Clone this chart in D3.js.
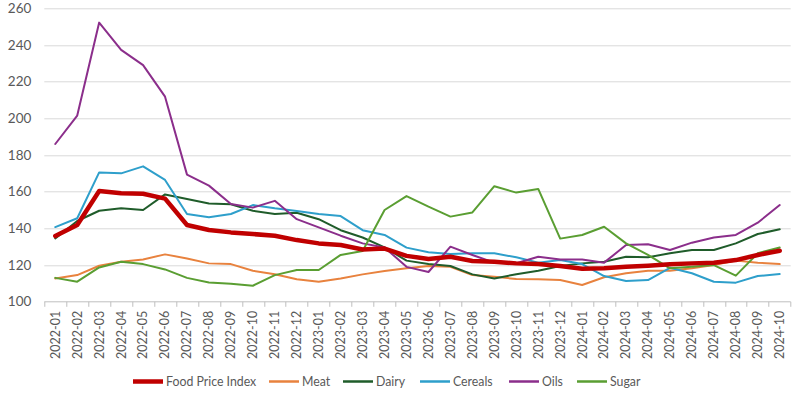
<!DOCTYPE html>
<html>
<head>
<meta charset="utf-8">
<script src="https://cdn.jsdelivr.net/npm/d3@7"></script>
<style>
  body { margin: 0; background: #fff; }
  svg text { font-family: Lato, "Liberation Sans", sans-serif; fill: #595959; }
</style>
</head>
<body>
<svg width="800" height="394"></svg>
<script>
// months on the x axis
const months = ['2022-01','2022-02','2022-03','2022-04','2022-05','2022-06','2022-07','2022-08','2022-09','2022-10','2022-11','2022-12',
    '2023-01','2023-02','2023-03','2023-04','2023-05','2023-06','2023-07','2023-08','2023-09','2023-10','2023-11','2023-12',
    '2024-01','2024-02','2024-03','2024-04','2024-05','2024-06','2024-07','2024-08','2024-09','2024-10'];

const yTicks = [100, 120, 140, 160, 180, 200, 220, 240, 260];

// series values
const foodPriceIndex = [135.8, 141.8, 160.4, 159.1, 158.9, 156.2, 141.8, 139.1, 137.8, 136.9, 136.0, 133.6,
    131.8, 130.9, 128.5, 129.0, 125.0, 123.3, 124.5, 122.2, 121.8, 120.9, 120.5, 119.5,
    118.0, 118.2, 119.0, 119.6, 120.4, 120.9, 121.3, 122.7, 125.5, 127.8];
const meat = [112.7, 114.5, 119.6, 121.8, 123.0, 125.8, 123.6, 120.9, 120.5, 116.9, 115.0, 112.2,
    110.9, 112.7, 114.9, 116.7, 118.2, 119.5, 119.0, 114.5, 113.6, 112.4, 112.2, 111.8,
    109.1, 113.3, 115.5, 116.9, 116.9, 118.2, 120.0, 122.4, 121.3, 120.5];
const dairy = [134.5, 144.0, 149.6, 150.9, 150.0, 158.5, 156.0, 153.6, 153.1, 149.6, 147.8, 148.5,
    145.0, 139.0, 135.0, 129.6, 122.4, 120.5, 119.5, 114.9, 112.7, 115.0, 116.9, 119.5,
    120.9, 121.8, 124.5, 124.2, 126.4, 128.2, 128.2, 131.8, 136.9, 139.5];
const cereals = [140.7, 145.5, 170.5, 170.0, 173.8, 166.4, 147.8, 146.0, 147.8, 152.7, 150.9, 149.5,
    147.8, 146.7, 139.0, 136.4, 129.5, 127.0, 126.0, 126.4, 126.4, 124.2, 121.3, 122.7,
    120.5, 114.0, 111.3, 111.8, 118.5, 115.5, 110.9, 110.4, 114.0, 115.1];
const oils = [186.0, 201.5, 252.2, 237.3, 229.0, 211.8, 169.3, 163.3, 153.3, 151.3, 155.0, 145.0,
    140.5, 136.0, 131.8, 129.6, 119.0, 116.2, 130.0, 125.5, 121.3, 121.0, 124.5, 123.0,
    123.0, 121.3, 130.9, 131.3, 128.2, 132.2, 135.0, 136.4, 143.1, 152.7];
const sugar = [113.0, 110.9, 118.7, 121.8, 120.5, 117.6, 113.0, 110.5, 109.8, 108.7, 114.5, 117.3,
    117.3, 125.5, 127.6, 150.0, 157.6, 151.8, 146.4, 148.7, 163.0, 159.5, 161.5, 134.4,
    136.4, 140.9, 131.8, 125.5, 118.2, 119.0, 120.0, 114.2, 126.4, 129.6];

const series = [
    { name: 'Food Price Index', values: foodPriceIndex, color: '#C00000', width: 4.5 },
    { name: 'Meat', values: meat, color: '#E8823E', width: 2 },
    { name: 'Dairy', values: dairy, color: '#1F5C2A', width: 2 },
    { name: 'Cereals', values: cereals, color: '#2E9FCB', width: 2 },
    { name: 'Oils', values: oils, color: '#8B2E8B', width: 2 },
    { name: 'Sugar', values: sugar, color: '#5A9E32', width: 2 }
];

// drawing order: food price index on top
const drawOrder = ['Meat', 'Dairy', 'Cereals', 'Oils', 'Sugar', 'Food Price Index'];

const svg = d3.select('svg'),
    margin = { top: 8.3, right: 9.3, bottom: 92.3, left: 44.3 },
    width = +svg.attr('width') - margin.left - margin.right,
    height = +svg.attr('height') - margin.top - margin.bottom;

const x = d3.scaleBand().domain(months).range([0, width]);
const y = d3.scaleLinear().domain([100, 260]).range([height, 0]);

const g = svg.append('g')
    .attr('transform', 'translate(' + margin.left + ',' + margin.top + ')');

// horizontal grid lines
g.selectAll('.grid')
    .data(yTicks.filter(d => d > 100))
    .enter().append('line')
    .attr('x1', 0).attr('x2', width)
    .attr('y1', d => Math.round(y(d)) + 0.5).attr('y2', d => Math.round(y(d)) + 0.5)
    .attr('stroke', '#D9D9D9').attr('stroke-width', 1);

// y axis labels
g.selectAll('.ylab')
    .data(yTicks)
    .enter().append('text')
    .attr('x', -13)
    .attr('y', d => y(d))
    .attr('dy', '0.35em')
    .attr('text-anchor', 'end')
    .style('font-size', '13.5px')
    .text(d => d);

// x axis: baseline, band boundary ticks, rotated labels
const xAxis = g.append('g').attr('transform', 'translate(0,' + (Math.round(height) + 0.5) + ')');
xAxis.append('line')
    .attr('x1', 0).attr('x2', width)
    .attr('stroke', '#BFBFBF');
xAxis.selectAll('.tick')
    .data(months.concat(['end']))
    .enter().append('line')
    .attr('x1', (d, i) => Math.round(i * x.step()) + 0.5)
    .attr('x2', (d, i) => Math.round(i * x.step()) + 0.5)
    .attr('y1', 0).attr('y2', 5)
    .attr('stroke', '#BFBFBF');
xAxis.selectAll('.xlab')
    .data(months)
    .enter().append('text')
    .attr('transform', d => 'translate(' + (x(d) + x.bandwidth() / 2) + ',9) rotate(-90)')
    .attr('dy', '0.35em')
    .attr('text-anchor', 'end')
    .style('font-size', '12.5px')
    .text(d => d);

// the lines
const line = d3.line()
    .x((d, i) => x(months[i]) + x.bandwidth() / 2)
    .y(d => y(d));

g.selectAll('.series')
    .data(drawOrder.map(n => series.find(s => s.name === n)))
    .enter().append('path')
    .attr('fill', 'none')
    .attr('stroke', d => d.color)
    .attr('stroke-width', d => d.width)
    .attr('stroke-linejoin', 'round')
    .attr('stroke-linecap', 'round')
    .attr('d', d => line(d.values));

// legend (text squeezed a bit, the original font is narrow)
const legendX = [133, 269, 343, 420, 509, 577];
const legend = svg.append('g').attr('transform', 'translate(0,381.5)');
const item = legend.selectAll('.item')
    .data(series)
    .enter().append('g')
    .attr('transform', (d, i) => 'translate(' + legendX[i] + ',0)');
item.append('line')
    .attr('x1', 0).attr('x2', 30)
    .attr('stroke', d => d.color)
    .attr('stroke-width', d => d.width === 2 ? 2.5 : 4.5);
item.append('text')
    .attr('transform', 'translate(33,0) scale(0.88,1)')
    .attr('dy', '0.35em')
    .style('font-size', '14px')
    .text(d => d.name);
</script>
</body>
</html>
